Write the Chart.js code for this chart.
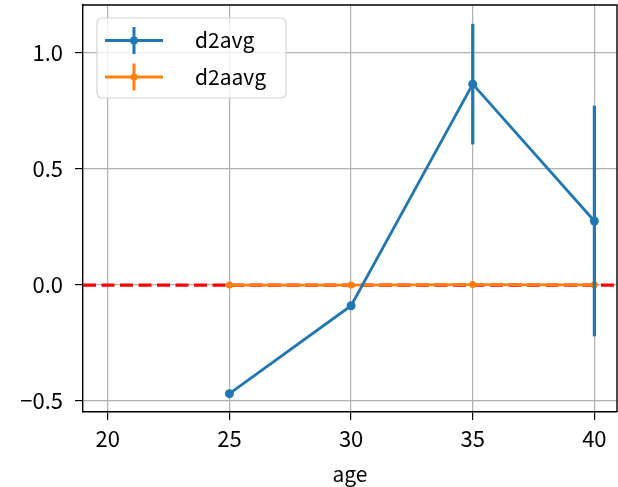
<!DOCTYPE html>
<html>
<head>
<meta charset="utf-8">
<script src="https://cdn.jsdelivr.net/npm/chart.js@4"></script>
<style>
html, body { margin: 0; padding: 0; background: #fff; }
#wrap { width: 618px; height: 487px; }
</style>
</head>
<body>
<div id="wrap"><canvas id="myChart"></canvas></div>
<script>
var ages = [25, 30, 35, 40];
var d2avg = [-0.468, -0.089, 0.866, 0.276];
var d2avgErr = [0, 0, 0.26, 0.497];
var d2aavg = [0, 0, 0.002, 0.001];
var d2aavgErr = [0.01, 0.01, 0.01, 0.01];
var xTicks = [20, 25, 30, 35, 40];
var yTicks = [-0.5, 0.0, 0.5, 1.0];
var seriesNames = ['d2avg', 'd2aavg'];

var FONT = "'Noto Sans CJK JP', 'DejaVu Sans', sans-serif";
var BLUE = '#1f77b4';
var ORANGE = '#ff7f0e';

function points(ys) {
	return ages.map(function (a, i) { return { x: a, y: ys[i] }; });
}

// vertical error bars, drawn through the y scale
var errorBars = {
	id: 'errorBars',
	afterDatasetDraw: function (chart, args) {
		var ds = chart.data.datasets[args.index];
		if (!ds.errors) return;
		var y = chart.scales.y, ctx = chart.ctx;
		ctx.save();
		ctx.strokeStyle = ds.borderColor;
		ctx.lineWidth = 3.2;
		args.meta.data.forEach(function (pt, i) {
			var v = ds.data[i].y, e = ds.errors[i];
			if (!e) return;
			ctx.beginPath();
			ctx.moveTo(pt.x, y.getPixelForValue(v - e));
			ctx.lineTo(pt.x, y.getPixelForValue(v + e));
			ctx.stroke();
		});
		ctx.restore();
	}
};

// red dashed zero line + top/right spines + legend box
var extras = {
	id: 'extras',
	beforeDatasetsDraw: function (chart) {
		var ctx = chart.ctx, a = chart.chartArea, y0 = chart.scales.y.getPixelForValue(0);
		ctx.save();
		ctx.strokeStyle = '#ff0000';
		ctx.lineWidth = 3.2;
		ctx.setLineDash([13, 5.5]);
		ctx.beginPath();
		ctx.moveTo(a.left, y0);
		ctx.lineTo(a.right, y0);
		ctx.stroke();
		ctx.restore();
	},
	afterDraw: function (chart) {
		var ctx = chart.ctx, a = chart.chartArea;
		ctx.save();
		ctx.strokeStyle = '#000';
		ctx.lineWidth = 1.4;
		ctx.beginPath();
		ctx.moveTo(a.left, a.top);
		ctx.lineTo(a.right, a.top);
		ctx.lineTo(a.right, a.bottom);
		ctx.stroke();

		// legend
		var bx = a.left + 14, by = a.top + 13, bw = 189, bh = 80;
		ctx.fillStyle = 'rgba(255,255,255,0.8)';
		ctx.strokeStyle = '#d4d4d4';
		ctx.lineWidth = 1.2;
		ctx.beginPath();
		ctx.roundRect(bx, by, bw, bh, 5);
		ctx.fill();
		ctx.stroke();
		var cols = [BLUE, ORANGE], radii = [4, 3.5];
		ctx.font = '21px ' + FONT;
		ctx.textBaseline = 'middle';
		seriesNames.forEach(function (name, i) {
			var cy = by + 22.5 + i * 36.5, x0 = bx + 8, x1 = bx + 66, xm = (x0 + x1) / 2;
			ctx.strokeStyle = cols[i];
			ctx.fillStyle = cols[i];
			ctx.lineWidth = 3;
			ctx.beginPath();
			ctx.moveTo(x0, cy); ctx.lineTo(x1, cy);
			ctx.moveTo(xm, cy - 13.5); ctx.lineTo(xm, cy + 13.5);
			ctx.stroke();
			ctx.beginPath();
			ctx.arc(xm, cy, radii[i], 0, Math.PI * 2);
			ctx.fill();
			ctx.fillStyle = '#000';
			ctx.fillText(name, bx + 98, cy);
		});
		ctx.restore();
	}
};

function noPad(s) {
	s.paddingTop = 0; s.paddingBottom = 0; s.paddingLeft = 0; s.paddingRight = 0;
}

new Chart(document.getElementById('myChart'), {
	type: 'line',
	data: {
		datasets: [{
			label: seriesNames[0],
			data: points(d2avg),
			errors: d2avgErr,
			borderColor: BLUE,
			backgroundColor: BLUE,
			borderWidth: 2.8,
			pointRadius: 4.5,
			pointBorderWidth: 0,
			tension: 0
		}, {
			label: seriesNames[1],
			data: points(d2aavg),
			errors: d2aavgErr,
			borderColor: ORANGE,
			backgroundColor: ORANGE,
			borderWidth: 2.8,
			pointRadius: 3.5,
			pointBorderWidth: 0,
			tension: 0
		}]
	},
	options: {
		responsive: true,
		maintainAspectRatio: false,
		animation: false,
		layout: { autoPadding: false, padding: { top: 5, right: 1, left: 0, bottom: 0 } },
		plugins: {
			legend: { display: false },
			tooltip: { enabled: false }
		},
		scales: {
			x: {
				type: 'linear',
				min: 18.98,
				max: 40.93,
				afterBuildTicks: function (s) { s.ticks = xTicks.map(function (v) { return { value: v }; }); },
				afterFit: function (s) { s.height = 75; noPad(s); },
				ticks: {
					color: '#000',
					font: { family: FONT, size: 22 },
					padding: 5,
					maxRotation: 0,
					callback: function (v) { return String(v); }
				},
				grid: { color: '#b0b0b0', lineWidth: 1.2, tickColor: '#000', tickLength: 8 },
				border: { color: '#000', width: 1.4 },
				title: { display: true, text: 'age', color: '#000', font: { family: FONT, size: 21 }, padding: { top: 2, bottom: 0 } }
			},
			y: {
				type: 'linear',
				min: -0.547,
				max: 1.207,
				afterBuildTicks: function (s) { s.ticks = yTicks.map(function (v) { return { value: v }; }); },
				afterFit: function (s) { s.width = 83; noPad(s); },
				ticks: {
					color: '#000',
					font: { family: FONT, size: 22 },
					padding: 12,
					callback: function (v) { return (v < 0 ? '\u2212' : '') + Math.abs(v).toFixed(1); }
				},
				grid: { color: '#b0b0b0', lineWidth: 1.2, tickColor: '#000', tickLength: 8 },
				border: { color: '#000', width: 1.4 }
			}
		}
	},
	plugins: [errorBars, extras]
});
</script>
</body>
</html>
